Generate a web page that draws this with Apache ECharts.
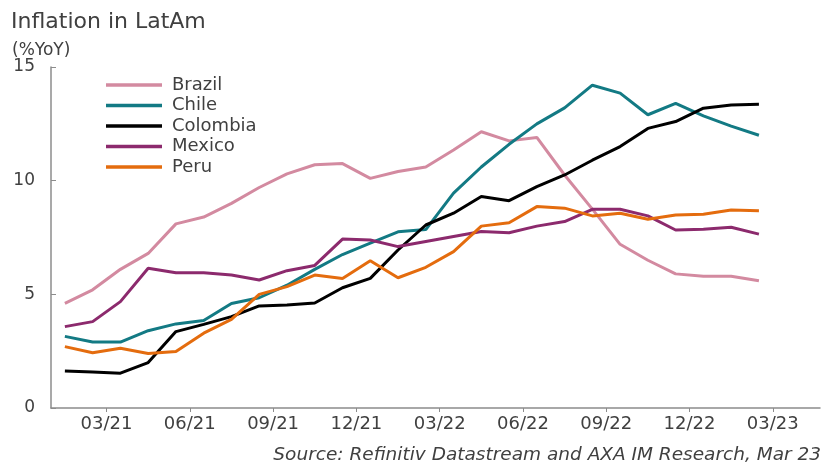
<!DOCTYPE html>
<html>
<head>
<meta charset="utf-8">
<title>Inflation in LatAm</title>
<script src="https://cdn.jsdelivr.net/npm/echarts@6/dist/echarts.min.js"></script>
<style>
  html, body { margin: 0; padding: 0; background: #fff; }
  #chart { width: 826px; height: 462px; }
</style>
</head>
<body>
<div id="chart"></div>
<script>
// Monthly observations, Jan 2021 to Feb 2023 (mm/yy)
const months = ['01/21','02/21','03/21','04/21','05/21','06/21','07/21','08/21','09/21','10/21','11/21','12/21',
                '01/22','02/22','03/22','04/22','05/22','06/22','07/22','08/22','09/22','10/22','11/22','12/22',
                '01/23','02/23'];

// Headline CPI, % year on year
const brazil   = [4.6, 5.2, 6.1, 6.8, 8.1, 8.4, 9.0, 9.7, 10.3, 10.7, 10.75, 10.1, 10.4, 10.6, 11.35, 12.15, 11.75, 11.9, 10.25, 8.75, 7.2, 6.5, 5.9, 5.8, 5.8, 5.6];
const chile    = [3.15, 2.9, 2.9, 3.4, 3.7, 3.85, 4.6, 4.85, 5.4, 6.1, 6.75, 7.25, 7.75, 7.85, 9.45, 10.6, 11.6, 12.5, 13.2, 14.2, 13.85, 12.9, 13.4, 12.85, 12.4, 12.0];
const colombia = [1.63, 1.58, 1.53, 2.0, 3.36, 3.68, 4.02, 4.49, 4.53, 4.62, 5.29, 5.7, 6.95, 8.05, 8.57, 9.3, 9.12, 9.74, 10.25, 10.9, 11.5, 12.3, 12.6, 13.19, 13.33, 13.36];
const mexico   = [3.58, 3.8, 4.68, 6.15, 5.95, 5.95, 5.85, 5.63, 6.04, 6.27, 7.43, 7.39, 7.1, 7.32, 7.54, 7.76, 7.71, 8.0, 8.2, 8.74, 8.74, 8.45, 7.83, 7.86, 7.95, 7.65];
const peru     = [2.7, 2.43, 2.63, 2.4, 2.48, 3.29, 3.9, 5.0, 5.34, 5.85, 5.7, 6.48, 5.73, 6.19, 6.88, 8.0, 8.15, 8.86, 8.79, 8.45, 8.57, 8.3, 8.49, 8.52, 8.71, 8.68];

// Quarterly tick labels on the time axis
const tickLabels = ['03/21','06/21','09/21','12/21','03/22','06/22','09/22','12/22','03/23'];

// Months elapsed since 1 Jan 2021 for an "mm/yy" string (start of that month)
function monthStart(s) {
  const [mm, yy] = s.split('/').map(Number);
  return (yy - 21) * 12 + (mm - 1);
}
// Observations sit in the middle of their month
const xs = months.map(m => monthStart(m) + 0.5);
const tickPos = tickLabels.map(monthStart);
const labelAt = {};
tickPos.forEach((p, i) => { labelAt[p] = tickLabels[i]; });

const seriesDefs = [
  { name: 'Brazil',   data: brazil,   color: '#d38aa0' },
  { name: 'Chile',    data: chile,    color: '#137a84' },
  { name: 'Colombia', data: colombia, color: '#000000' },
  { name: 'Mexico',   data: mexico,   color: '#8c2a6d' },
  { name: 'Peru',     data: peru,     color: '#e46c0e' }
];

const FONT = '"DejaVu Sans", "Noto Sans", sans-serif';
const TXT = '#404040';
const AXIS = '#8c8c8c';

const chart = echarts.init(document.getElementById('chart'), null, { renderer: 'canvas' });

chart.setOption({
  animation: false,
  backgroundColor: '#ffffff',
  textStyle: { fontFamily: FONT },
  title: [
    { text: 'Inflation in LatAm', left: 11, top: 11, padding: 0,
      textStyle: { fontFamily: FONT, fontSize: 22, fontWeight: 'normal', color: TXT } },
    { text: '(%YoY)', left: 12, top: 42, padding: 0,
      textStyle: { fontFamily: FONT, fontSize: 17, fontWeight: 'normal', color: TXT } },
    { text: 'Source: Refinitiv Datastream and AXA IM Research, Mar 23', right: 5, top: 446, padding: 0,
      textStyle: { fontFamily: FONT, fontSize: 18.5, fontStyle: 'italic', fontWeight: 'normal', color: TXT } }
  ],
  legend: {
    orient: 'vertical',
    left: 106,
    top: 76,
    padding: 0,
    icon: 'rect',
    itemWidth: 56,
    itemHeight: 3.5,
    itemGap: 2.5,
    textStyle: { fontFamily: FONT, fontSize: 18, color: TXT, padding: [0, 0, 0, 5] },
    data: seriesDefs.map(s => s.name)
  },
  grid: { left: 51, right: 6, top: 67, bottom: 54, containLabel: false },
  xAxis: {
    type: 'value',
    min: 0,
    max: 27.7,
    axisLine: { show: true, lineStyle: { color: AXIS, width: 1.5 } },
    axisTick: { show: true, inside: false, length: 4, customValues: tickPos, lineStyle: { color: AXIS } },
    axisLabel: {
      customValues: tickPos,
      margin: 7,
      fontFamily: FONT, fontSize: 18, color: TXT,
      formatter: v => labelAt[v] || ''
    },
    splitLine: { show: false }
  },
  yAxis: {
    type: 'value',
    min: 0,
    max: 15,
    interval: 5,
    axisLine: { show: true, lineStyle: { color: AXIS, width: 1.5 } },
    axisTick: { show: true, inside: true, length: 5, lineStyle: { color: AXIS } },
    axisLabel: { margin: 16, fontFamily: FONT, fontSize: 17, color: TXT },
    splitLine: { show: false }
  },
  series: seriesDefs.map(s => ({
    name: s.name,
    type: 'line',
    data: s.data.map((v, i) => [xs[i], v]),
    showSymbol: false,
    symbol: 'none',
    color: s.color,
    lineStyle: { width: 3, color: s.color },
    itemStyle: { color: s.color }
  }))
});
</script>
</body>
</html>
